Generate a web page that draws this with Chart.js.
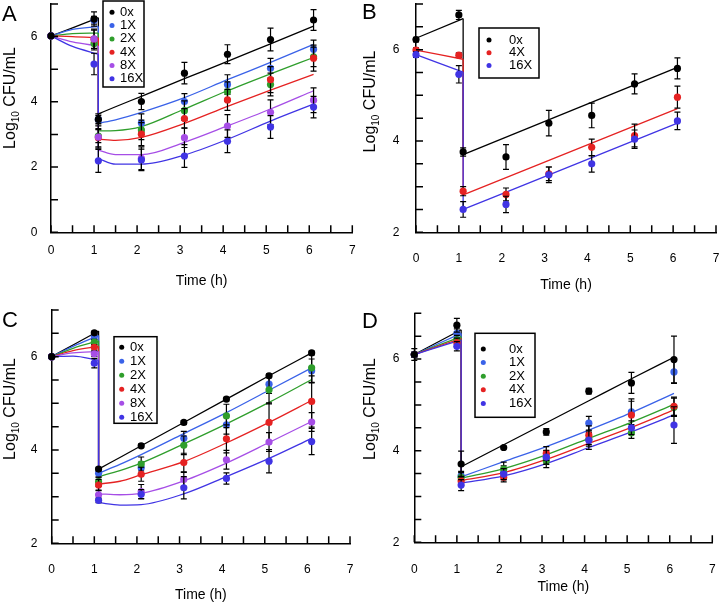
<!DOCTYPE html>
<html>
<head>
<meta charset="utf-8">
<title>Time-kill curves</title>
<script src="https://cdn.jsdelivr.net/npm/chart.js@4.4.1/dist/chart.umd.min.js"></script>
<style>
  body { margin: 0; background: #fff; }
  #page { position: relative; width: 720px; height: 605px; overflow: hidden; background: #fff; }
  canvas { position: absolute; }
</style>
</head>
<body>
<div id="page">
  <canvas id="chartA" width="360" height="300" style="left:0;top:0"></canvas>
  <canvas id="chartB" width="360" height="300" style="left:360px;top:0"></canvas>
  <canvas id="chartC" width="360" height="305" style="left:0;top:300px"></canvas>
  <canvas id="chartD" width="360" height="305" style="left:360px;top:300px"></canvas>
</div>
<script>
// ---- data ----
const tObs = [0, 1, 1.1, 2.1, 3.1, 4.1, 5.1, 6.1];
const xTicks = [0, 1, 2, 3, 4, 5, 6, 7];
const xMarks = [0, 0.5, 1, 1.5, 2, 2.5, 3, 3.5, 4, 4.5, 5, 5.5, 6, 6.5, 7];

// Panel A
const seriesA = ['0x', '1X', '2X', '4X', '8X', '16X'];
const meanA = [
  [6.02, 6.54, 3.46, 4.01, 4.88, 5.46, 5.91, 6.51],
  [6.02, 6.50, 3.46, 3.35, 4.01, 4.53, 5.03, 5.61],
  [6.02, 5.79, 2.95, 3.14, 3.73, 4.31, 4.53, 5.38],
  [6.02, 5.92, 2.90, 3.01, 3.49, 4.06, 4.68, 5.34],
  [6.02, 5.93, 2.92, 2.27, 2.90, 3.26, 3.68, 4.05],
  [6.02, 5.16, 2.19, 2.22, 2.34, 2.79, 3.23, 3.84]
];
const sdA = [
  [0.04, 0.22, 0.17, 0.25, 0.33, 0.29, 0.35, 0.32],
  [0.04, 0.12, 0.12, 0.28, 0.24, 0.30, 0.30, 0.28],
  [0.04, 0.20, 0.20, 0.30, 0.30, 0.30, 0.35, 0.30],
  [0.04, 0.28, 0.28, 0.35, 0.30, 0.32, 0.40, 0.40],
  [0.04, 0.30, 0.34, 0.35, 0.30, 0.35, 0.38, 0.38],
  [0.04, 0.33, 0.35, 0.33, 0.35, 0.35, 0.35, 0.33]
];
const tPreA = [0, 0.5, 1.1];
const preA = [
  [6.02, 6.27, 6.58],
  [6.02, 6.22, 6.31],
  [6.02, 6.09, 6.11],
  [6.02, 6.00, 5.96],
  [6.02, 5.84, 5.71],
  [6.02, 5.70, 5.46]
];
const tPostA = [1.1, 1.5, 2.1, 3.1, 4.1, 5.1, 6.1];
const postA = [
  [3.63, 3.85, 4.17, 4.71, 5.24, 5.78, 6.32],
  [3.34, 3.45, 3.68, 4.13, 4.68, 5.21, 5.76],
  [3.11, 3.12, 3.24, 3.78, 4.34, 4.86, 5.36],
  [2.86, 2.82, 2.91, 3.34, 3.86, 4.36, 4.84],
  [2.52, 2.38, 2.38, 2.76, 3.26, 3.78, 4.34],
  [2.26, 2.09, 2.09, 2.37, 2.85, 3.41, 3.93]
];
const yTicksA = [0, 2, 4, 6];
const yMarksA = [0, 1, 2, 3, 4, 5, 6, 7];

// Panel B
const seriesB = ['0x', '4X', '16X'];
const meanB = [
  [6.22, 6.76, 3.76, 3.65, 4.39, 4.56, 5.25, 5.59],
  [5.99, 5.88, 2.90, 2.83, 3.28, 3.86, 4.12, 4.96],
  [5.89, 5.46, 2.50, 2.61, 3.26, 3.50, 4.04, 4.44]
];
const sdB = [
  [0.05, 0.10, 0.09, 0.27, 0.28, 0.27, 0.22, 0.23],
  [0.05, 0.05, 0.10, 0.14, 0.15, 0.18, 0.25, 0.24],
  [0.06, 0.19, 0.17, 0.18, 0.17, 0.18, 0.20, 0.19]
];
const tPreB = [0, 1.1];
const preB = [[6.25, 6.68], [5.99, 5.79], [5.89, 5.51]];
const tPostB = [1.1, 6.1];
const postB = [[3.70, 5.61], [2.82, 4.71], [2.50, 4.39]];
const yTicksBCD = [2, 4, 6];
const yMarksBCD = [2, 2.5, 3, 3.5, 4, 4.5, 5, 5.5, 6, 6.5, 7];

// Panel C
const seriesC = ['0x', '1X', '2X', '4X', '8X', '16X'];
const meanC = [
  [6.00, 6.51, 3.59, 4.09, 4.59, 5.09, 5.59, 6.08],
  [6.00, 6.43, 3.50, 3.62, 4.25, 4.54, 5.41, 5.70],
  [6.00, 6.31, 3.32, 3.70, 4.10, 4.73, 5.29, 5.76],
  [6.00, 6.20, 3.25, 3.48, 3.73, 4.24, 4.59, 5.04],
  [6.00, 6.06, 3.04, 3.11, 3.37, 3.79, 4.17, 4.60],
  [6.00, 5.86, 2.92, 3.05, 3.19, 3.39, 3.76, 4.18]
];
const sdC = [
  [0.03, 0.04, 0.04, 0.04, 0.04, 0.04, 0.04, 0.04],
  [0.03, 0.06, 0.08, 0.12, 0.15, 0.20, 0.20, 0.25],
  [0.03, 0.06, 0.10, 0.15, 0.20, 0.25, 0.30, 0.32],
  [0.03, 0.06, 0.12, 0.15, 0.20, 0.30, 0.42, 0.55],
  [0.03, 0.06, 0.10, 0.15, 0.15, 0.20, 0.20, 0.20],
  [0.03, 0.10, 0.05, 0.10, 0.24, 0.12, 0.25, 0.28]
];
const tPreC = [0, 0.5, 1.1];
const preC = [
  [6.00, 6.25, 6.55],
  [6.00, 6.22, 6.45],
  [6.00, 6.18, 6.34],
  [6.00, 6.13, 6.22],
  [6.00, 6.08, 6.11],
  [6.00, 6.01, 5.92]
];
const tPostC = [1.1, 1.6, 2.1, 3.1, 4.1, 5.1, 6.1];
const postC = [
  [3.59, 3.84, 4.09, 4.59, 5.09, 5.59, 6.08],
  [3.50, 3.69, 3.90, 4.35, 4.80, 5.28, 5.76],
  [3.43, 3.56, 3.72, 4.13, 4.56, 5.02, 5.51],
  [3.27, 3.33, 3.47, 3.75, 4.15, 4.59, 5.06],
  [3.06, 3.04, 3.07, 3.34, 3.72, 4.16, 4.61],
  [2.87, 2.82, 2.83, 3.06, 3.43, 3.82, 4.25]
];

// Panel D
const seriesD = ['0x', '1X', '2X', '4X', '16X'];
const meanD = [
  [6.10, 6.74, 3.71, 4.07, 4.41, 5.30, 5.48, 5.99],
  [6.10, 6.56, 3.45, 3.52, 3.85, 4.60, 4.85, 5.72],
  [6.10, 6.42, 3.42, 3.60, 3.78, 4.25, 4.39, 4.95],
  [6.10, 6.36, 3.34, 3.42, 3.94, 4.34, 4.78, 4.97],
  [6.10, 6.28, 3.25, 3.49, 3.86, 4.23, 4.50, 4.56]
];
const sdD = [
  [0.13, 0.15, 0.28, 0.03, 0.07, 0.06, 0.23, 0.51],
  [0.05, 0.10, 0.10, 0.15, 0.15, 0.15, 0.28, 0.25],
  [0.05, 0.10, 0.10, 0.15, 0.15, 0.15, 0.12, 0.20],
  [0.05, 0.10, 0.10, 0.10, 0.15, 0.20, 0.30, 0.20],
  [0.05, 0.10, 0.12, 0.12, 0.15, 0.20, 0.15, 0.40]
];
const tPreD = [0, 1.1];
const preD = [[6.10, 6.64], [6.10, 6.56], [6.10, 6.49], [6.10, 6.45], [6.10, 6.42]];
const tPostD = [1.1, 2.1, 3.1, 4.1, 5.1, 6.1];
const postD = [
  [3.65, 4.13, 4.61, 5.09, 5.57, 6.04],
  [3.43, 3.76, 4.09, 4.45, 4.83, 5.25],
  [3.40, 3.61, 3.91, 4.27, 4.62, 5.01],
  [3.35, 3.52, 3.81, 4.16, 4.51, 4.89],
  [3.29, 3.45, 3.72, 4.07, 4.41, 4.78]
];

// ---- styling ----
const colorOf = {
  '0x': '#000000', '1X': '#3a62e8', '2X': '#2f9e2c',
  '4X': '#e52222', '8X': '#a64ee6', '16X': '#4034e4'
};
const FONT = '"Liberation Sans", Arial, Helvetica, sans-serif';

function pts(xs, ys) {
  return xs.map((t, i) => ({ x: t, y: ys[i] }));
}

function buildDatasets(P) {
  const out = [];
  P.series.forEach((name, k) => {
    const c = colorOf[name];
    const lineOpts = {
      showLine: true, borderColor: c, borderWidth: 1.3, pointRadius: 0,
      pointHitRadius: 0, cubicInterpolationMode: 'monotone', fill: false,
      clip: false, order: 20 - k
    };
    const pre = P.pre[k], post = P.post[k];
    out.push(Object.assign({ data: pts(P.tPre, pre) }, lineOpts));
    out.push(Object.assign({
      data: [{ x: P.tPre[P.tPre.length - 1], y: pre[pre.length - 1] }, { x: P.tPost[0], y: post[0] }]
    }, lineOpts));
    out.push(Object.assign({ data: pts(P.tPost, post) }, lineOpts));
    // observed means with error bars
    out.push({
      data: pts(tObs, P.mean[k]), errors: P.sd[k],
      backgroundColor: c, borderColor: c, borderWidth: 0,
      pointRadius: 3.6, clip: false, order: k === 0 ? 0 : 6 - k
    });
  });
  return out;
}

function decoPlugin(P) {
  return {
    id: 'deco' + P.letter,
    beforeDatasetDraw(chart, args) {
      const ds = chart.data.datasets[args.index];
      if (!ds.errors) return;
      const { ctx, scales: { x, y } } = chart;
      ctx.save();
      ctx.strokeStyle = '#000';
      ctx.lineWidth = 1.2;
      ctx.beginPath();
      ds.data.forEach((p, i) => {
        const e = ds.errors[i];
        const px = x.getPixelForValue(p.x);
        const y1 = y.getPixelForValue(p.y - e);
        const y2 = y.getPixelForValue(p.y + e);
        ctx.moveTo(px, y1); ctx.lineTo(px, y2);
        ctx.moveTo(px - 3, y1); ctx.lineTo(px + 3, y1);
        ctx.moveTo(px - 3, y2); ctx.lineTo(px + 3, y2);
      });
      ctx.stroke();
      ctx.restore();
    },
    afterDraw(chart) {
      const { ctx, chartArea: a, scales: { x, y } } = chart;
      ctx.save();
      // inward tick marks
      ctx.strokeStyle = '#000';
      ctx.lineWidth = 1.5;
      ctx.beginPath();
      xMarks.forEach(v => {
        const px = x.getPixelForValue(v);
        ctx.moveTo(px, a.bottom); ctx.lineTo(px, a.bottom - 7);
      });
      P.yMarks.forEach(v => {
        const py = y.getPixelForValue(v);
        ctx.moveTo(a.left, py); ctx.lineTo(a.left + 7, py);
      });
      ctx.stroke();

      ctx.fillStyle = '#000';
      // x title
      ctx.font = '14px ' + FONT;
      ctx.textAlign = 'center';
      ctx.textBaseline = 'middle';
      ctx.fillText('Time (h)', (a.left + a.right) / 2, P.xTitleY);

      // y title with subscript
      ctx.save();
      ctx.translate(11, P.yTitleY);
      ctx.rotate(-Math.PI / 2);
      const big = '16px ' + FONT, small = '10px ' + FONT;
      ctx.font = big;
      const w1 = ctx.measureText('Log').width;
      const w3 = ctx.measureText(' CFU/mL').width;
      ctx.font = small;
      const w2 = ctx.measureText('10').width;
      let sx = -(w1 + w2 + w3) / 2;
      ctx.textAlign = 'left';
      ctx.font = big; ctx.fillText('Log', sx, 0); sx += w1;
      ctx.font = small; ctx.fillText('10', sx, 5); sx += w2;
      ctx.font = big; ctx.fillText(' CFU/mL', sx, 0);
      ctx.restore();

      // panel letter
      ctx.font = '22px ' + FONT;
      ctx.textAlign = 'left';
      ctx.textBaseline = 'alphabetic';
      ctx.fillText(P.letter, 2, P.letterY);

      // legend box
      const L = P.legend;
      ctx.fillStyle = '#fff';
      ctx.fillRect(L.x, L.y, L.w, L.h);
      ctx.strokeStyle = '#000';
      ctx.lineWidth = 1.5;
      ctx.strokeRect(L.x, L.y, L.w, L.h);
      ctx.font = '13px ' + FONT;
      ctx.textBaseline = 'middle';
      P.series.forEach((name, k) => {
        const ry = L.row0 + k * L.step;
        ctx.fillStyle = colorOf[name];
        ctx.beginPath();
        ctx.arc(L.dot, ry, 2.5, 0, Math.PI * 2);
        ctx.fill();
        ctx.fillStyle = '#000';
        ctx.fillText(name, L.text, ry);
      });
      ctx.restore();
    }
  };
}

function makePanel(P) {
  const tickFont = { family: FONT, size: 12 };
  new Chart(document.getElementById(P.id), {
    type: 'scatter',
    data: { datasets: buildDatasets(P) },
    options: {
      responsive: false,
      animation: false,
      events: [],
      layout: { padding: { left: 0, top: P.top, right: P.right, bottom: 0 } },
      plugins: { legend: { display: false }, tooltip: { enabled: false } },
      scales: {
        x: {
          type: 'linear', min: 0, max: 7,
          grid: { display: false, drawTicks: false },
          border: { display: true, color: '#000', width: 1.5 },
          ticks: { color: '#000', font: tickFont, padding: P.xPad, maxRotation: 0, autoSkip: false },
          afterBuildTicks: s => { s.ticks = xTicks.map(v => ({ value: v })); },
          afterFit: s => { s.height = P.xh; s.paddingLeft = 0; s.paddingRight = 0; }
        },
        y: {
          type: 'linear', min: P.yMin, max: 7,
          grid: { display: false, drawTicks: false },
          border: { display: true, color: '#000', width: 1.5 },
          ticks: { color: '#000', font: tickFont, padding: P.yPad, autoSkip: false },
          afterBuildTicks: s => { s.ticks = P.yTicks.map(v => ({ value: v })); },
          afterFit: s => { s.width = P.left; s.paddingTop = 0; s.paddingBottom = 0; }
        }
      }
    },
    plugins: [decoPlugin(P)]
  });
}

makePanel({
  id: 'chartA', letter: 'A', series: seriesA, mean: meanA, sd: sdA,
  tPre: tPreA, pre: preA, tPost: tPostA, post: postA,
  yMin: 0, yTicks: yTicksA, yMarks: yMarksA,
  left: 51, right: 7.7, top: 0, xh: 67.7, yPad: 13.7, xPad: 11,
  letterY: 21, xTitleY: 281, yTitleY: 98,
  legend: { x: 103, y: 1, w: 41, h: 86, dot: 112, text: 120, row0: 12.3, step: 13.3 }
});
makePanel({
  id: 'chartB', letter: 'B', series: seriesB, mean: meanB, sd: sdB,
  tPre: tPreB, pre: preB, tPost: tPostB, post: postB,
  yMin: 2, yTicks: yTicksBCD, yMarks: yMarksBCD,
  left: 56, right: 3.3, top: 0, xh: 67.7, yPad: 16.7, xPad: 19,
  letterY: 18.5, xTitleY: 285, yTitleY: 101.5,
  legend: { x: 119, y: 28, w: 60, h: 50, dot: 129, text: 149, row0: 40, step: 12.7 }
});
makePanel({
  id: 'chartC', letter: 'C', series: seriesC, mean: meanC, sd: sdC,
  tPre: tPreC, pre: preC, tPost: tPostC, post: postC,
  yMin: 2, yTicks: yTicksBCD, yMarks: yMarksBCD,
  left: 51.7, right: 10, top: 10, xh: 61.7, yPad: 14.4, xPad: 19,
  letterY: 26.5, xTitleY: 295, yTitleY: 109,
  legend: { x: 114, y: 36.7, w: 43, h: 86.6, dot: 121.7, text: 130, row0: 47.3, step: 14 }
});
makePanel({
  id: 'chartD', letter: 'D', series: seriesD, mean: meanD, sd: sdD,
  tPre: tPreD, pre: preD, tPost: tPostD, post: postD,
  yMin: 2, yTicks: yTicksBCD, yMarks: yMarksBCD,
  left: 54.3, right: 7.7, top: 13.3, xh: 62.7, yPad: 15, xPad: 20,
  letterY: 28, xTitleY: 286.7, yTitleY: 109,
  legend: { x: 115, y: 33.3, w: 60, h: 84, dot: 123.3, text: 149, row0: 49, step: 13.6 }
});
</script>
</body>
</html>
